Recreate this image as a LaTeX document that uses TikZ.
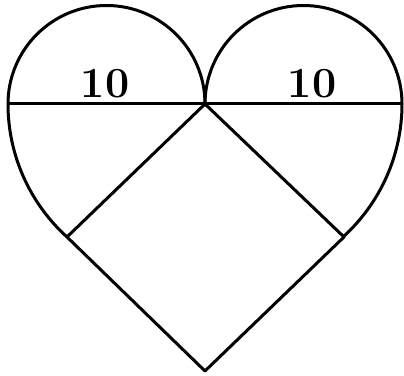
\documentclass[tikz,border=0pt]{standalone}
\begin{document}
\begin{tikzpicture}[x=1pt,y=1pt,line join=round,
  edge/.style={line width=3pt,black},
  lbl/.style={font=\fontsize{43}{43}\selectfont\bfseries,inner sep=0pt}]
\useasboundingbox (0,0) rectangle (404,375);
\coordinate (A) at (8,271);
\coordinate (M) at (205,271);
\coordinate (B) at (402,271);
\coordinate (SL) at (67,138);
\coordinate (SR) at (344,138);
\coordinate (Bot) at (205,4);
% top semicircles
\draw[edge] (A) arc[start angle=180,end angle=0,radius=98.5];
\draw[edge] (M) arc[start angle=180,end angle=0,radius=98.5];
% diameters
\draw[edge] (A) -- (M) -- (B);
% lower sides
\draw[edge] (A) arc[start angle=180,end angle=227.8,radius=179.4];
\draw[edge] (B) arc[start angle=0,end angle=-47.8,radius=179.4];
% square
\draw[edge] (M) -- (SL) -- (Bot) -- (SR) -- cycle;
% labels
\node[lbl] (l1) at (105,291) {10};
\node[lbl] (l2) at (312,291) {10};
\end{tikzpicture}
\end{document}
